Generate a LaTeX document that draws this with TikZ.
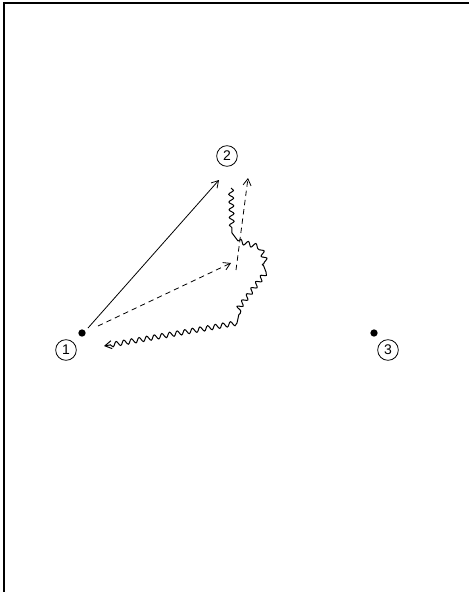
\documentclass[tikz,border=0pt]{standalone}
\usepackage{fontspec}
\setmainfont{Liberation Sans}
\usetikzlibrary{arrows.meta,decorations.pathmorphing}
\begin{document}
\begin{tikzpicture}[x=0.75pt,y=-0.75pt,
  lbl/.style={circle,draw,line width=0.6pt,inner sep=0pt,minimum size=15.5pt,font=\fontsize{10.5}{11}\selectfont},
  dotnode/.style={circle,fill=black,inner sep=0pt,minimum size=5.5pt},
  conn/.style={line width=0.6pt,-{Straight Barb[length=5pt,width=6pt]}},
  dashconn/.style={conn,dash pattern=on 4pt off 3pt},
  wavy/.style={line width=0.75pt,decorate,decoration={snake,segment length=5.8pt,amplitude=1.8pt,pre length=0pt,post=lineto,post length=4pt}}]
\useasboundingbox (0,0) rectangle (469,592);
\draw[line width=1.6pt] (469,3) -- (4,3) -- (4,592);
% nodes
\node[dotnode] (d1) at (82,333) {};
\node[lbl] (c1) at (66,350) {1};
\node[lbl] (c2) at (227,156) {2};
\node[dotnode] (d3) at (374,333) {};
\node[lbl] (c3) at (388,350) {3};
% helper coordinates
\coordinate (s1) at (88,328);
\coordinate (t1) at (219,180);
\coordinate (s2) at (98,326);
\coordinate (t2) at (231,263);
\coordinate (s3) at (236,270);
\coordinate (t3) at (248,178);
\coordinate (w0) at (231,188);
\coordinate (w1) at (232,233);
\coordinate (w2) at (238,241);
\coordinate (w3) at (256,246);
\coordinate (w4) at (266,272);
\coordinate (w5) at (241,305);
\coordinate (w6) at (237,323);
\coordinate (w7) at (104,346);
% connectors
\draw[conn] (s1) -- (t1);
\draw[dashconn] (s2) -- (t2);
\draw[dashconn] (s3) -- (t3);
\draw[wavy] (w0) -- (w1);
\draw[line width=0.75pt] (w1) -- (w2);
\draw[wavy] (w2) -- (w3) -- (w4);
\draw[wavy] (w4) -- (w5) -- (w6);
\draw[wavy,-{Straight Barb[length=5pt,width=6pt]}] (w6) -- (w7);
\end{tikzpicture}
\end{document}
